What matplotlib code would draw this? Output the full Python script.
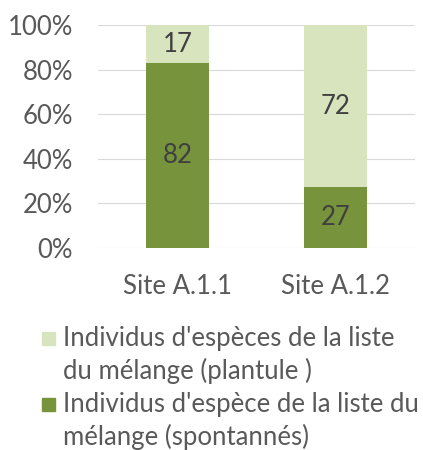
import numpy as np
import matplotlib.pyplot as plt
from matplotlib.patches import Rectangle
from matplotlib.ticker import PercentFormatter

sites = ["Site A.1.1", "Site A.1.2"]
spontanes = [82, 27]
plantules = [17, 72]
labels = [["Individus d'espèces de la liste", "du mélange (plantule )"],
          ["Individus d'espèce de la liste du", "mélange (spontannés)"]]

dark = "#77933C"
light = "#D7E4BD"
grey = "#595959"
fs = 18.5

plt.rcParams['font.family'] = ['Lato', 'DejaVu Sans']

fig = plt.figure(figsize=(4.23, 4.5), dpi=100)
ax = fig.add_axes([0.232, 0.449, 0.749, 0.495])

tot = np.array(spontanes) + np.array(plantules)
p1 = np.array(spontanes) / tot
p2 = np.array(plantules) / tot
x = np.arange(len(sites))

b1 = ax.bar(x, p1, width=0.4, color=dark, zorder=3)
b2 = ax.bar(x, p2, width=0.4, bottom=p1, color=light, zorder=3)
ax.bar_label(b1, labels=[str(v) for v in spontanes], label_type="center",
             color="#404040", fontsize=fs)
ax.bar_label(b2, labels=[str(v) for v in plantules], label_type="center",
             color="#404040", fontsize=fs)

ax.set_xlim(-0.5, 1.5)
ax.set_ylim(0, 1)
ax.set_yticks(np.arange(0, 1.01, 0.2))
ax.yaxis.set_major_formatter(PercentFormatter(1.0, decimals=0))
ax.set_xticks(x)
ax.set_xticklabels(sites)
ax.tick_params(length=0, labelsize=fs, colors=grey)
ax.tick_params(axis="x", pad=19)
ax.tick_params(axis="y", pad=18)
ax.grid(axis="y", color="#D9D9D9", lw=0.8, zorder=0)
for s in ax.spines.values():
    s.set_visible(False)

# legend drawn by hand so the swatch sits on the first line
W, H = 423, 450
for i, (lines, col) in enumerate(zip(labels, [light, dark])):
    base = 346 + i * 66
    fig.patches.append(Rectangle((42 / W, 1 - (base - 1) / H), 13 / W, 13 / H,
                                 transform=fig.transFigure, color=col))
    for j, line in enumerate(lines):
        fig.text(63 / W, 1 - (base + j * 33) / H, line, ha="left",
                 va="baseline", fontsize=fs, color=grey)

fig.savefig("out.png", dpi=100)
